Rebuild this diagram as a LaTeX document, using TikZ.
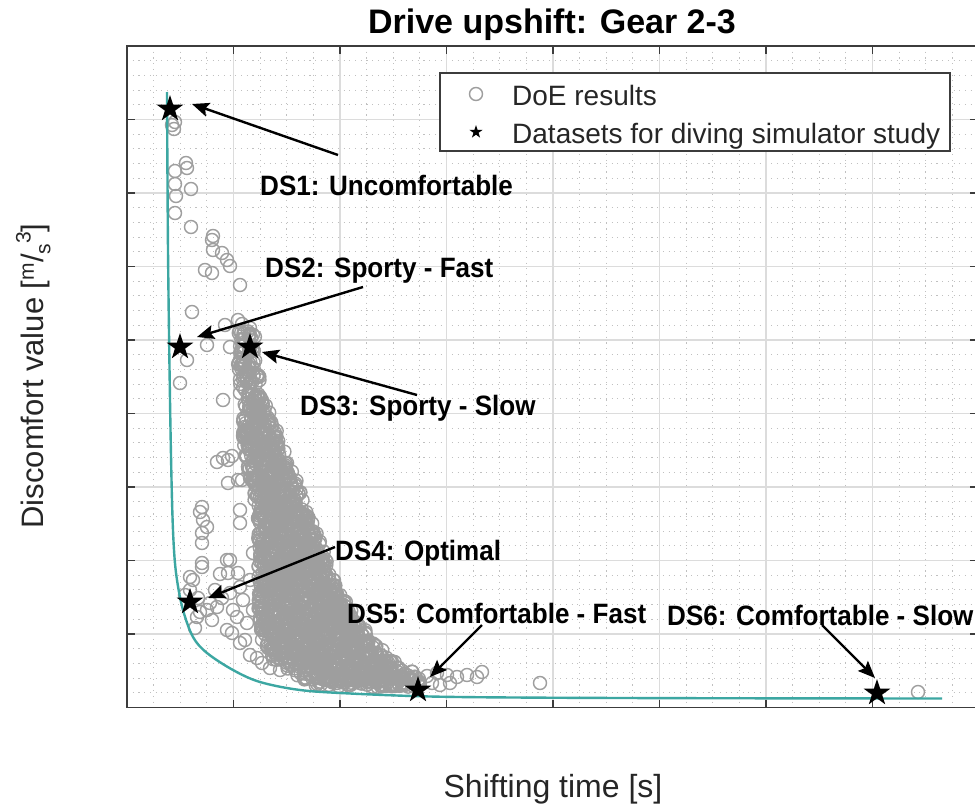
\documentclass[tikz,border=0pt]{standalone}
\usepackage{fontspec}
\setmainfont{Liberation Sans}
\newfontfamily\annfont[FakeStretch=0.93]{Liberation Sans}
\usetikzlibrary{shapes.geometric,arrows.meta}
\definecolor{tealc}{RGB}{60,167,162}
\definecolor{doegray}{RGB}{158,158,158}
\definecolor{majgrid}{RGB}{220,220,220}
\definecolor{mingrid}{RGB}{192,192,192}
\definecolor{axcol}{RGB}{60,60,60}
\tikzset{
  doe/.style={draw=doegray, line width=1.4pt},
  majorgrid/.style={draw=majgrid, line width=1.3pt},
  minorgrid/.style={draw=mingrid, line width=0.9pt, dash pattern=on 1.1pt off 4.6pt},
  axframe/.style={draw=axcol, line width=1.6pt},
  ann/.style={font=\annfont\bfseries\fontsize{28}{30}\selectfont, anchor=base west, inner sep=0pt},
  arr/.style={-{Stealth[length=17pt,width=14pt,inset=3pt]}, line width=2.4pt, black},
  dsstar/.style={star, star points=5, star point ratio=2.62, fill=black, draw=none, minimum size=28pt, inner sep=0pt},
}
\begin{document}
\begin{tikzpicture}[x=1pt,y=-1pt]
\useasboundingbox (0,0) rectangle (975,806);
\clip (0,0) rectangle (975,806);
\fill[white] (0,0) rectangle (975,806);
% minor grid
\foreach \k in {1,...,31}{
  \draw[minorgrid] ({127+26.625*\k},46) -- ({127+26.625*\k},707.5);
}
\foreach \k in {1,...,44}{
  \draw[minorgrid] (127,{46+14.7*\k}) -- (978,{46+14.7*\k});
}
% major grid
\foreach \k in {1,...,7}{
  \draw[majorgrid] ({127+106.5*\k},46) -- ({127+106.5*\k},707.5);
}
\foreach \k in {1,...,8}{
  \draw[majorgrid] (127,{46+73.5*\k}) -- (978,{46+73.5*\k});
}
% DoE results: dense cloud
\pgfmathsetseed{11}
\foreach \yb/\l/\r in {335/238/256,350/238/256,365/238/258,380/240/260,
  395/245/262,405/244/266,415/243/270,425/243/273,435/243/277,445/244/281,
  455/245/285,465/247/289,475/249/293,485/252/297,495/254/301,505/256/305,
  515/257/309,525/258/313,535/258/317,545/258/320,555/257/324,565/257/327,
  575/257/331,585/257/336,595/258/341,605/258/347,615/259/353,625/260/360,
  635/262/368,645/265/377,655/272/388,665/282/400,675/295/415,682/315/420}{
  \pgfmathtruncatemacro\n{max(3,(\r-\l)*10/11)}
  \foreach \i in {1,...,\n}{
    \pgfmathsetmacro\xx{\l+rnd*(\r-\l)}
    \pgfmathsetmacro\yy{\yb+rand*5}
    \draw[doe] (\xx,\yy) circle[radius=6.5pt];
  }
}
% DoE results: sparse points
\foreach \p in {(172,125),(175,122),(174,129),(186,163),(187,168),(175,171),(175,184),(191,189),(176,196),(175,213),(191,227),
  (213,236),(212,240),(213,250),(222,253),(227,260),(230,266),(205,270),(212,273),(240,285),(192,312),(225,325),(238,320),(242,324),(250,328),
  (207,345),(230,347),(187,360),(180,383),(223,400),(243,387),(240,393),(247,372),(243,379),(250,377),(240,360),(245,365),
  (217,462),(223,458),(228,460),(232,456),(238,480),(228,483),(242,480),(240,510),(240,523),(202,507),(200,512),(203,520),(207,527),
  (202,533),(202,543),(202,563),(230,560),(253,553),(227,560),
  (190,577),(193,580),(202,567),(220,574),(228,573),(238,573),(215,590),(230,593),(240,587),(250,580),(243,600),(207,610),(217,607),
  (197,617),(195,628),(227,630),(232,633),(240,643),(250,655),(257,658),(237,617),(247,623),(253,610),(185,595),(198,598),(200,612),
  (210,603),(222,598),(233,610),(212,620),(245,640),(262,663),(270,668),(280,670),(190,590),
  (427,676),(437,673),(447,675),(457,677),(467,675),(477,677),(482,672),(450,683),(440,685),(405,685),(420,683),(432,683),(395,686),(380,685),
  (540,683),(918,692)}{
  \draw[doe] \p circle[radius=6.5pt];
}
% Pareto curve
\draw[tealc, line width=2.4pt] plot[smooth, tension=0.55] coordinates {(167,92) (168,250) (170,400) (172,500) (174,550) (177,580) (183,610) (193,637) (207,653) (233,670) (260,682) (300,690) (350,693.5) (430,696.5) (530,697.6) (700,698.2) (942,698.5)};
% frame
\draw[axframe] (978,46) -- (127,46) -- (127,707.5) -- (978,707.5);
\foreach \k in {1,...,7}{
  \draw[axframe] ({127+106.5*\k},46) -- ({127+106.5*\k},54);
  \draw[axframe] ({127+106.5*\k},707.5) -- ({127+106.5*\k},699.5);
}
\foreach \k in {1,...,8}{
  \draw[axframe] (127,{46+73.5*\k}) -- (135,{46+73.5*\k});
  \draw[axframe] (978,{46+73.5*\k}) -- (970,{46+73.5*\k});
}
% datasets
\node[dsstar] (s1) at (170,109) {};
\node[dsstar] (s2) at (180,347) {};
\node[dsstar] (s3) at (250,347) {};
\node[dsstar] (s4) at (190,602) {};
\node[dsstar] (s5) at (418,690) {};
\node[dsstar] (s6) at (877,693) {};
% labels
\node[ann] (l1) at (260,195) {DS1: Uncomfortable};
\node[ann] (l2) at (265,277) {DS2: Sporty - Fast};
\node[ann] (l3) at (300,415) {DS3: Sporty - Slow};
\node[ann] (l4) at (335,560) {DS4: Optimal};
\node[ann] (l5) at (347,623) {DS5: Comfortable - Fast};
\node[ann] (l6) at (667,625) {DS6: Comfortable - Slow};
% arrows
\coordinate (t1) at (338,155); \coordinate (h1) at (192,104);
\coordinate (t2) at (363,287); \coordinate (h2) at (197,337);
\coordinate (t3) at (417,395); \coordinate (h3) at (262,352);
\coordinate (t4) at (335,547); \coordinate (h4) at (208,598);
\coordinate (t5) at (482,625); \coordinate (h5) at (430,677);
\coordinate (t6) at (822,625); \coordinate (h6) at (875,678);
\draw[arr] (t1) -- (h1);
\draw[arr] (t2) -- (h2);
\draw[arr] (t3) -- (h3);
\draw[arr] (t4) -- (h4);
\draw[arr] (t5) -- (h5);
\draw[arr] (t6) -- (h6);
% legend
\draw[fill=white, draw=axcol, line width=1.5pt] (440,73) rectangle (950,151);
\draw[doe] (476,94) circle[radius=6.5pt];
\node[star, star points=5, star point ratio=2.62, fill=black, minimum size=14pt, inner sep=0pt] (ls) at (476,132) {};
\node[anchor=base west, inner sep=0pt, font=\fontsize{28}{30}\selectfont, text=black!85] (lt1) at (512,105) {DoE results};
\node[anchor=base west, inner sep=0pt, font=\fontsize{28}{30}\selectfont, text=black!85] (lt2) at (512,143) {Datasets for diving simulator study};
% title and axis labels
\node[anchor=base, inner sep=0pt, font=\bfseries\fontsize{34}{36}\selectfont] (title) at (552,33) {Drive upshift: Gear 2-3};
\node[anchor=base, inner sep=0pt, font=\fontsize{32}{34}\selectfont, text=black!85] (xl) at (553,797) {Shifting time [s]};
\node[anchor=base, rotate=90, inner sep=0pt, font=\fontsize{31}{33}\selectfont, text=black!85] (yl) at (43,376) {Discomfort value [\raisebox{0.55ex}{\fontsize{21}{22}\selectfont m}/\raisebox{-0.45ex}{\fontsize{21}{22}\selectfont s}\raisebox{0.75ex}{\fontsize{21}{22}\selectfont 3}]};
\end{tikzpicture}
\end{document}
